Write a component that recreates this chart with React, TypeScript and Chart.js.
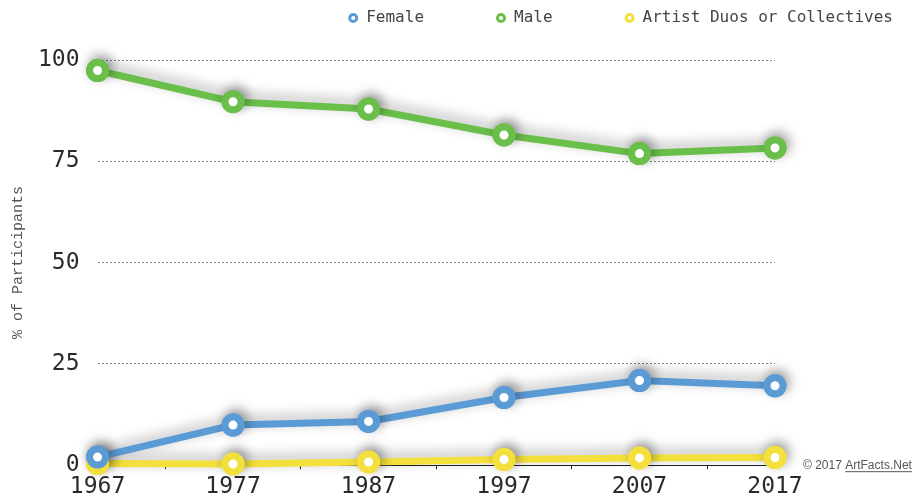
import React, { useEffect, useRef } from 'react';
import { Chart, registerables } from 'chart.js';

Chart.register(...registerables);

const years = ['1967', '1977', '1987', '1997', '2007', '2017'];
const female = [2.0, 9.9, 10.8, 16.7, 20.9, 19.6];
const male = [97.4, 89.7, 87.9, 81.5, 76.9, 78.3];
const duos = [0.4, 0.3, 0.8, 1.4, 1.8, 1.9];
const seriesNames = ['Female', 'Male', 'Artist Duos or Collectives'];
const seriesColors = ['#5b9bd5', '#6abf4b', '#f4e03c'];
const yMin = 0;
const yMax = 100;
const yStep = 25;
const yTitle = '% of Participants';
const creditPrefix = '© 2017 ';
const creditLink = 'ArtFacts.Net';

const tickFont = { family: '"DejaVu Sans Mono", monospace', size: 23 };
const LEGEND_PAD = 72;
const LEGEND_H = 60;
const LEGEND_DX = 190;

export default function App() {
  const ref = useRef<HTMLCanvasElement>(null);

  useEffect(() => {
    const legendFix = {
      id: 'legendFix',
      beforeLayout(chart: any) {
        const lg: any = chart.legend;
        if (lg && !lg.__patched) {
          lg.__patched = true;
          const fit = lg.fit.bind(lg);
          lg.fit = function () {
            fit();
            this.height = LEGEND_H;
          };
          lg.draw = function () {
            if (!this.options.display) return;
            const c = this.ctx;
            c.save();
            c.translate(LEGEND_DX, -(LEGEND_PAD - 10));
            this._draw();
            c.restore();
          };
        }
      },
    };
    const shadow = {
      id: 'lineShadow',
      beforeDatasetsDraw(chart: any) {
        const c = chart.ctx;
        c.save();
        c.shadowColor = 'rgba(0,0,0,0.33)';
        c.shadowBlur = 13;
        c.shadowOffsetX = 3;
        c.shadowOffsetY = -4;
      },
      afterDatasetsDraw(chart: any) {
        const c = chart.ctx;
        c.restore();
        const metas = chart.getSortedVisibleDatasetMetas();
        for (let i = metas.length - 1; i >= 0; i--) {
          metas[i].data.forEach((p: any) => p.draw(c, chart.chartArea));
        }
      },
    };
    const credit = {
      id: 'credit',
      afterDraw(chart: any) {
        const c = chart.ctx;
        const area = chart.chartArea;
        const y = chart.scales.y.getPixelForValue(0) + 4;
        const x = area.right + 28;
        c.save();
        c.font = '12px "Liberation Sans", Arial, sans-serif';
        c.fillStyle = '#555';
        c.textBaseline = 'alphabetic';
        c.textAlign = 'left';
        c.fillText(creditPrefix, x, y);
        const w = c.measureText(creditPrefix).width;
        c.fillText(creditLink, x + w, y);
        const w2 = c.measureText(creditLink).width;
        c.strokeStyle = '#555';
        c.lineWidth = 1;
        c.beginPath();
        c.moveTo(x + w, y + 2.5);
        c.lineTo(x + w + w2, y + 2.5);
        c.stroke();
        c.restore();
      },
    };

    const data = [female, male, duos];
    const chart = new Chart(ref.current!, {
      type: 'line',
      data: {
        labels: years,
        datasets: data.map((d, i) => ({
          label: seriesNames[i],
          data: d,
          borderColor: seriesColors[i],
          backgroundColor: seriesColors[i],
          borderWidth: 7,
          pointRadius: 8,
          pointHoverRadius: 8,
          pointBorderWidth: 7,
          pointBackgroundColor: '#ffffff',
          pointBorderColor: seriesColors[i],
          tension: 0,
          clip: false as any,
        })),
      },
      options: {
        animation: false,
        responsive: true,
        maintainAspectRatio: false,
        layout: { padding: { top: 0, right: 138, left: 0, bottom: -9 } },
        plugins: {
          tooltip: { enabled: false },
          legend: {
            position: 'top',
            align: 'end',
            labels: {
              usePointStyle: true,
              pointStyle: 'circle',
              boxWidth: 10,
              boxHeight: 5,
              padding: LEGEND_PAD,
              color: '#444',
              font: { family: '"DejaVu Sans Mono", monospace', size: 16 },
              generateLabels(chart: any) {
                const items = Chart.defaults.plugins.legend.labels.generateLabels(chart);
                return items.map((it: any) => ({ ...it, lineWidth: 3, fillStyle: '#ffffff' }));
              },
            },
          },
        },
        scales: {
          x: {
            type: 'category',
            offset: false,
            grid: {
              display: true,
              drawOnChartArea: false,
              drawTicks: true,
              tickLength: 4,
              offset: true,
              color: '#222',
            },
            border: { display: true, color: '#222', width: 1 },
            ticks: { color: '#2a2a2a', font: tickFont, padding: 4, maxRotation: 0 },
          },
          y: {
            min: yMin,
            max: yMax,
            grid: {
              drawTicks: false,
              color: (ctx: any) => (ctx.tick && ctx.tick.value === 0 ? 'rgba(0,0,0,0)' : '#8a8a8a'),
              lineWidth: 1,
            },
            border: { display: false, dash: [2, 2] },
            ticks: { stepSize: yStep, color: '#2a2a2a', font: tickFont, padding: 18 },
            title: {
              display: true,
              text: yTitle,
              color: '#555',
              font: { family: '"Liberation Mono", monospace', size: 15 },
              padding: { top: 9, bottom: -7 },
            },
          },
        },
      },
      plugins: [legendFix, shadow, credit],
    });
    return () => chart.destroy();
  }, []);

  return (
    <div style={{ position: 'absolute', left: 0, top: 0, width: 913, height: 497 }}>
      <canvas ref={ref} />
    </div>
  );
}
